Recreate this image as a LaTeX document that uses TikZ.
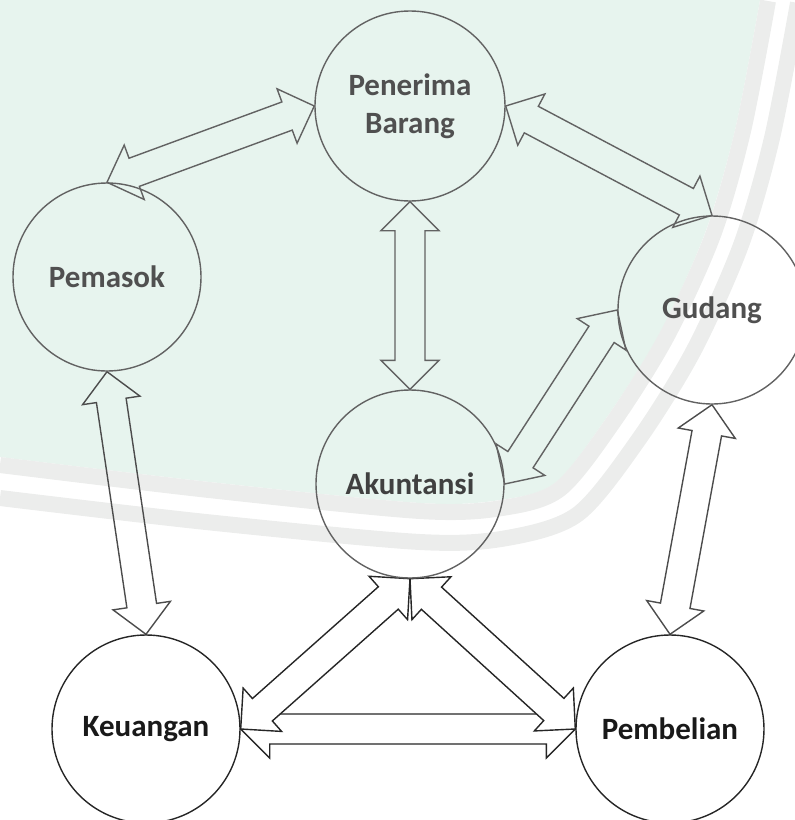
\documentclass[tikz,border=0pt]{standalone}
\usepackage{fontspec}
\setmainfont{Carlito}
\usetikzlibrary{calc}

\definecolor{wmgreen}{HTML}{E7F4EE}
\definecolor{bandgray}{HTML}{ECEDEC}
\definecolor{linegray}{HTML}{626262}
\definecolor{textgray}{HTML}{505050}

\pgfdeclarelayer{background}
\pgfdeclarelayer{arrows}
\pgfsetlayers{background,arrows,main}

% sizes of the hollow double arrows
\newcommand{\tiplen}{29pt}
\newcommand{\tiphalf}{29pt}
\newcommand{\shafthalf}{15pt}

\tikzset{
  unit/.style={circle, draw=linegray, line width=1.4pt, minimum size=188pt, inner sep=0pt,
    text=textgray, align=center, font=\fontsize{31}{38}\selectfont\bfseries},
  lowunit/.style={unit, draw=black!85, text=black!90},
  flow/.style={draw=linegray, line width=1.4pt, line join=miter},
  lowflow/.style={flow, draw=black!85, fill=white},
}

% hollow arrow with a head at both ends, from #2 to #3
\newcommand{\dualarrow}[3][]{%
  \draw[flow,#1] let \p1=(#2), \p2=(#3),
    \n1={atan2(\y2-\y1,\x2-\x1)}, \n2={veclen(\x2-\x1,\y2-\y1)} in
    [shift={(\p1)}, rotate=\n1]
    (0pt,0pt) -- (\tiplen,\tiphalf) -- (\tiplen,\shafthalf) -- ({\n2-\tiplen},\shafthalf)
    -- ({\n2-\tiplen},\tiphalf) -- (\n2,0pt) -- ({\n2-\tiplen},-\tiphalf)
    -- ({\n2-\tiplen},-\shafthalf) -- (\tiplen,-\shafthalf) -- (\tiplen,-\tiphalf) -- cycle;
}

\begin{document}
\begin{tikzpicture}[x=1pt, y=-1pt]
  \useasboundingbox (0,0) rectangle (795,820);

  % watermark background
  \begin{pgfonlayer}{background}
    \fill[wmgreen] (0,0) -- plot[smooth] coordinates {(0,457) (210,482) (420,503) (500,500)
      (555,483) (607,417) (660,333) (705,233) (735,130) (760,0)} -- cycle;
    \draw[bandgray, line width=16pt] plot[smooth] coordinates {(0,465) (209,490) (420,511)
      (502,508) (560,489) (614,421) (667,336) (713,235) (743,131) (768,1)};
    \draw[bandgray, line width=16pt] plot[smooth] coordinates {(0,498) (206,522) (420,542)
      (507,538) (578,514) (639,439) (694,350) (741,245) (772,138) (798,3)};
  \end{pgfonlayer}

  \node[unit, minimum size=190pt] (penerima) at (410,106) {Penerima\\Barang};
  \node[unit] (pemasok)   at (107,277) {Pemasok};
  \node[unit] (gudang)    at (712,310) {Gudang};
  \node[unit, text=textgray!80!black] (akuntansi) at (410,484) {Akuntansi};
  \node[lowunit] (keuangan)  at (146,729) {Keuangan};
  \node[lowunit] (pembelian) at (670,729) {Pembelian};

  \begin{pgfonlayer}{arrows}
    \dualarrow{pemasok.north}{penerima.west}
    \dualarrow{penerima.east}{gudang.north}
    \dualarrow{penerima.south}{akuntansi.north}
    \dualarrow{akuntansi.east}{gudang.west}
    \dualarrow[draw=black!70]{pemasok.south}{keuangan.north}
    \dualarrow[draw=black!70]{gudang.south}{pembelian.north}
    \dualarrow[lowflow]{keuangan.east}{pembelian.west}
    \dualarrow[lowflow]{akuntansi.south}{keuangan.east}
    \dualarrow[lowflow]{akuntansi.south}{pembelian.west}
  \end{pgfonlayer}
\end{tikzpicture}
\end{document}
